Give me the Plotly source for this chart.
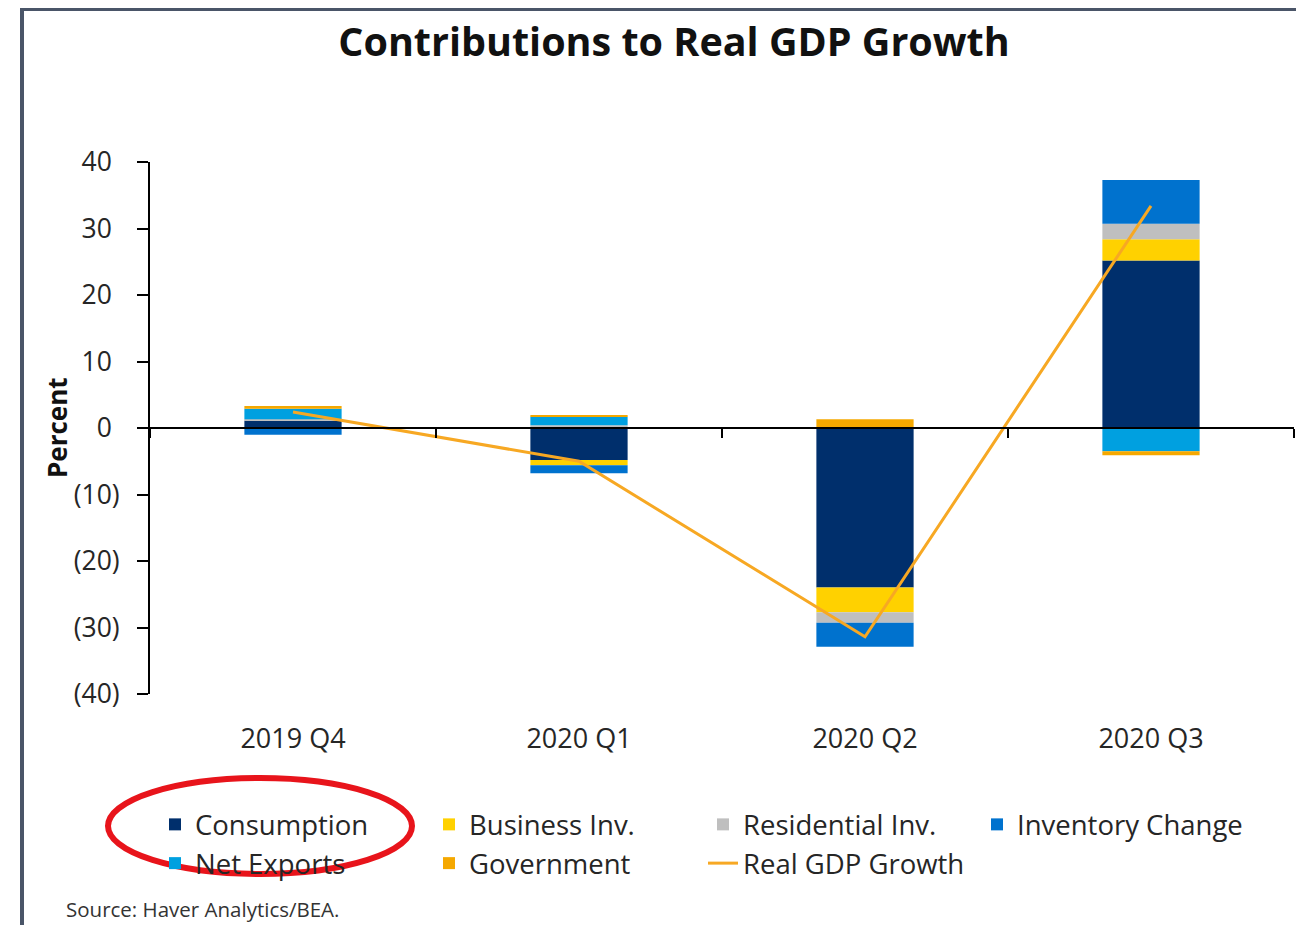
import plotly.graph_objects as go

categories = ["2019 Q4", "2020 Q1", "2020 Q2", "2020 Q3"]
consumption = [1.1, -4.8, -24.0, 25.2]
business_inv = [-0.1, -0.8, -3.7, 3.2]
residential_inv = [0.2, 0.4, -1.6, 2.3]
inventory_change = [-0.9, -1.2, -3.6, 6.6]
net_exports = [1.6, 1.3, 0.0, -3.5]
government = [0.4, 0.2, 1.3, -0.6]
real_gdp_growth = [2.4, -5.0, -31.4, 33.4]

y_tickvals = [-40, -30, -20, -10, 0, 10, 20, 30, 40]
y_ticktext = ["(40)", "(30)", "(20)", "(10)", "0", "10", "20", "30", "40"]

series = [
    ("Consumption", consumption, "#002F6C"),
    ("Business Inv.", business_inv, "#FFD100"),
    ("Residential Inv.", residential_inv, "#BFBFBF"),
    ("Inventory Change", inventory_change, "#0072CE"),
    ("Net Exports", net_exports, "#00A0E0"),
    ("Government", government, "#F5A800"),
]

# the page body adds an 8px margin, so the figure is laid out 8px smaller/offset
OFF = 8
W, H = 1304 - OFF, 925 - OFF
PX0, PX1, PY0, PY1 = 150, 1294, 162, 694  # plot area in page pixels
L, R = PX0 - OFF, W - (PX1 - OFF)
T, B = PY0 - OFF, H - (PY1 - OFF)


def px_x(p):
    return (p - PX0) / (PX1 - PX0)


def px_y(p):
    return (PY1 - p) / (PY1 - PY0)


FONT = "Open Sans"
TXT = "#262626"

# accounting-style labels: positives keep an invisible ")" so digits align with negatives
PAD = "<span style='color:rgba(0,0,0,0)'>)</span>"
y_ticklabels = [t if t.startswith("(") else t + PAD for t in y_ticktext]

fig = go.Figure()
for name, vals, color in series:
    fig.add_trace(go.Bar(x=categories, y=vals, name=name, marker=dict(color=color, line=dict(width=0))))

fig.add_trace(go.Scatter(x=categories, y=real_gdp_growth, name="Real GDP Growth", mode="lines",
                         line=dict(color="#F7A823", width=3), xaxis="x2", yaxis="y"))

fig.update_layout(
    width=W, height=H,
    margin=dict(l=L, r=R, t=T, b=B),
    paper_bgcolor="white", plot_bgcolor="white",
    barmode="relative", bargap=0.66,
    font=dict(family=FONT, size=26, color=TXT),
    title=dict(text="<b>Contributions to Real GDP Growth</b>", x=(674 - OFF) / W, xanchor="center",
               y=1 - (42 - OFF) / H, yanchor="middle", font=dict(family=FONT, size=39.5, color="#111111")),
    xaxis=dict(type="category", categoryorder="array", categoryarray=categories, range=[-0.5, 3.5],
               showline=False, showgrid=False, zeroline=False, ticks="", ticklabelstandoff=26,
               tickfont=dict(size=27, color=TXT)),
    xaxis2=dict(type="category", categoryorder="array", categoryarray=categories, range=[-0.5, 3.5],
                overlaying="x", anchor="free", position=0.5, side="bottom",
                showline=True, linecolor="black", linewidth=2, showgrid=False, zeroline=False,
                ticks="outside", tickson="boundaries", ticklen=9, tickwidth=2, tickcolor="black",
                showticklabels=False),
    yaxis=dict(range=[-40, 40], tickvals=y_tickvals, ticktext=y_ticklabels, showgrid=False, zeroline=False,
               showline=True, linecolor="black", linewidth=2, ticks="outside", ticklen=11, tickwidth=2,
               tickcolor="black", ticklabelstandoff=12, tickfont=dict(size=26.5, color=TXT)),
    legend=dict(orientation="h", x=px_x(155), xanchor="left", y=px_y(800), yanchor="top",
                entrywidth=229, traceorder="normal", font=dict(size=27.5, color=TXT),
                bgcolor="rgba(0,0,0,0)"),
    showlegend=True,
)

fig.add_annotation(text="<b>Percent</b>", xref="paper", yref="paper", x=px_x(57), y=px_y(428),
                   xanchor="center", yanchor="middle", textangle=-90, showarrow=False,
                   font=dict(family=FONT, size=26, color="#111111"))

fig.add_annotation(text="Source: Haver Analytics/BEA.", xref="paper", yref="paper",
                   x=px_x(64), y=px_y(909), xanchor="left", yanchor="middle", showarrow=False,
                   font=dict(family=FONT, size=20.5, color="#333333"))

# red highlight ellipse around the "Consumption" legend entry
fig.add_shape(type="circle", xref="paper", yref="paper", x0=px_x(108), x1=px_x(412),
              y0=px_y(874), y1=px_y(778), line=dict(color="#E8141B", width=6), layer="above")

# screenshot frame edges
fig.add_shape(type="line", xref="paper", yref="paper", x0=px_x(22), x1=px_x(22), y0=px_y(7), y1=px_y(935),
              line=dict(color="#4A5568", width=4), layer="above")
fig.add_shape(type="line", xref="paper", yref="paper", x0=px_x(20), x1=px_x(1310), y0=px_y(9), y1=px_y(9),
              line=dict(color="#4A5568", width=4), layer="above")

fig.write_html("out.html")
